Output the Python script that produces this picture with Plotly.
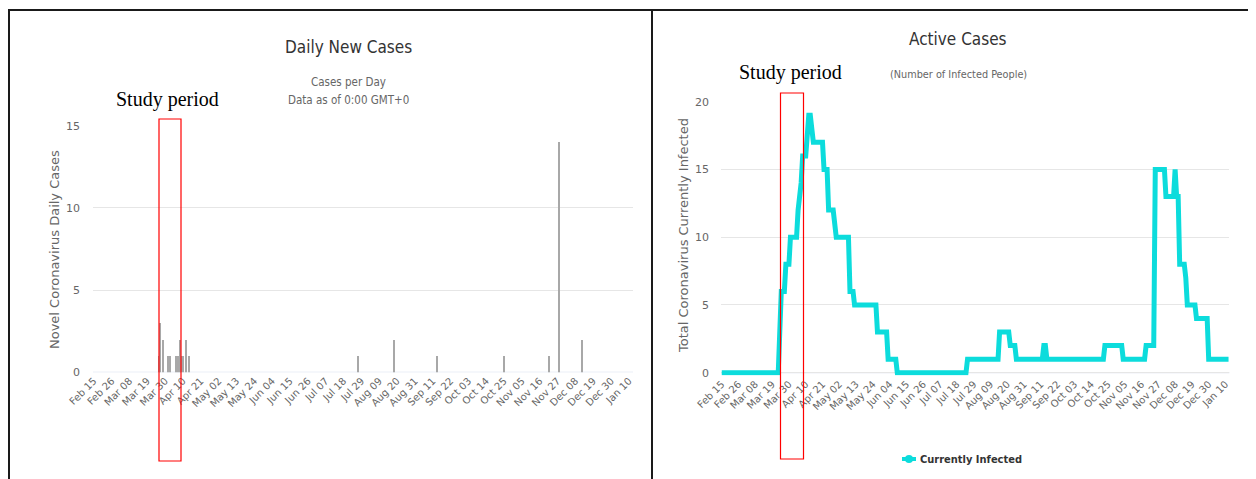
import plotly.graph_objects as go
import pandas as pd

# ---------------- data ----------------
new_case_dates = ["2020-03-26", "2020-03-27", "2020-03-29", "2020-04-01", "2020-04-02",
                  "2020-04-06", "2020-04-07", "2020-04-08", "2020-04-09", "2020-04-10",
                  "2020-04-12", "2020-04-14", "2020-07-27", "2020-08-18", "2020-09-14",
                  "2020-10-25", "2020-11-22", "2020-11-28", "2020-12-12"]
new_case_values = [1, 3, 2, 1, 1, 1, 1, 2, 1, 1, 2, 1, 1, 2, 1, 1, 1, 14, 2]

active_dates = ["2020-02-15", "2020-03-23", "2020-03-25", "2020-03-27", "2020-03-28",
                "2020-03-30", "2020-03-31", "2020-04-04", "2020-04-05", "2020-04-07",
                "2020-04-08", "2020-04-10", "2020-04-12", "2020-04-13", "2020-04-14",
                "2020-04-15", "2020-04-21", "2020-04-22", "2020-04-24", "2020-04-25",
                "2020-04-28", "2020-04-29", "2020-04-30", "2020-05-08", "2020-05-09",
                "2020-05-11", "2020-05-12", "2020-05-26", "2020-05-27", "2020-06-02",
                "2020-06-03", "2020-06-08", "2020-06-09", "2020-07-24", "2020-07-25",
                "2020-08-14", "2020-08-15", "2020-08-21", "2020-08-22", "2020-08-25",
                "2020-08-26", "2020-09-12", "2020-09-13", "2020-09-14", "2020-09-15",
                "2020-10-22", "2020-10-23", "2020-11-03", "2020-11-04", "2020-11-18",
                "2020-11-19", "2020-11-24", "2020-11-25", "2020-12-01", "2020-12-02",
                "2020-12-07", "2020-12-08", "2020-12-09", "2020-12-10", "2020-12-11",
                "2020-12-14", "2020-12-15", "2020-12-16", "2020-12-21", "2020-12-22",
                "2020-12-29", "2020-12-30", "2021-01-12"]
active_values = [0, 0, 6, 6, 8, 8, 10, 10, 12, 14, 16, 16, 19, 19, 18, 17, 17, 15, 15, 12,
                 12, 11, 10, 10, 6, 6, 5, 5, 3, 3, 1, 1, 0, 0, 1, 1, 3, 3, 2, 2,
                 1, 1, 2, 2, 1, 1, 2, 2, 1, 1, 2, 2, 15, 15, 13, 13, 15, 13, 13, 8,
                 8, 7, 5, 5, 4, 4, 1, 1]

tick_labels = ["Feb 15", "Feb 26", "Mar 08", "Mar 19", "Mar 30", "Apr 10", "Apr 21",
               "May 02", "May 13", "May 24", "Jun 04", "Jun 15", "Jun 26", "Jul 07",
               "Jul 18", "Jul 29", "Aug 09", "Aug 20", "Aug 31", "Sep 11", "Sep 22",
               "Oct 03", "Oct 14", "Oct 25", "Nov 05", "Nov 16", "Nov 27", "Dec 08",
               "Dec 19", "Dec 30", "Jan 10"]
tick_dates = ["2020-02-15", "2020-02-26", "2020-03-08", "2020-03-19", "2020-03-30",
              "2020-04-10", "2020-04-21", "2020-05-02", "2020-05-13", "2020-05-24",
              "2020-06-04", "2020-06-15", "2020-06-26", "2020-07-07", "2020-07-18",
              "2020-07-29", "2020-08-09", "2020-08-20", "2020-08-31", "2020-09-11",
              "2020-09-22", "2020-10-03", "2020-10-14", "2020-10-25", "2020-11-05",
              "2020-11-16", "2020-11-27", "2020-12-08", "2020-12-19", "2020-12-30",
              "2021-01-10"]
x_range = ["2020-02-14 12:00", "2021-01-12 12:00"]

# ---------------- styling ----------------
W, H = 1256, 479
OFF = 8  # page body margin in the browser
def px(x): return (x - OFF) / W
def py(y): return 1 - (y - OFF) / H

HC_FONT = "Liberation Sans Narrow, DejaVu Sans Condensed, Arial Narrow, sans-serif"
AX_FONT = "DejaVu Sans, Verdana, sans-serif"
CYAN = "#0cdcdc"
GRID = "#e6e6e6"

fig = go.Figure()

fig.add_trace(go.Bar(
    x=pd.to_datetime(new_case_dates), y=new_case_values,
    marker=dict(color="#a8a8a8", line=dict(width=0)),
    width=0.8 * 86400000, xaxis="x", yaxis="y", showlegend=False))

fig.add_trace(go.Scatter(
    x=pd.to_datetime(active_dates), y=active_values, mode="lines",
    line=dict(color=CYAN, width=5, shape="linear"),
    xaxis="x2", yaxis="y2", showlegend=False, name="Currently Infected"))

xcommon = dict(type="date", range=x_range, tickvals=tick_dates, ticktext=tick_labels,
               tickangle=-45, tickfont=dict(family=AX_FONT, size=10, color="#666666"),
               showgrid=False, zeroline=False, showline=False, ticks="", automargin=False)
ycommon = dict(showgrid=True, gridcolor=GRID, gridwidth=1, zeroline=False, showline=False,
               ticks="", tickfont=dict(family=AX_FONT, size=11, color="#666666"),
               automargin=False)

fig.update_layout(
    template="none",
    width=W, height=H, margin=dict(l=0, r=0, t=0, b=0, pad=0, autoexpand=False),
    paper_bgcolor="white", plot_bgcolor="white", bargap=0, showlegend=False,
    xaxis=dict(domain=[px(93), px(633)], anchor="y", **xcommon),
    yaxis=dict(domain=[py(372.3), py(125.7)], anchor="x", range=[0, 15],
               tickvals=[0, 5, 10, 15], ticklabelstandoff=12, **ycommon),
    xaxis2=dict(domain=[px(721), px(1229.3)], anchor="y2", **xcommon),
    yaxis2=dict(domain=[py(375.4), py(101.7)], anchor="x2", range=[-0.2, 20],
                tickvals=[0, 5, 10, 15, 20], ticklabelstandoff=11, **ycommon),
)

shapes = []
# axis baselines
shapes.append(dict(type="line", xref="x domain", yref="y", x0=0, x1=1, y0=0, y1=0,
                   line=dict(color="#ccd6eb", width=1), layer="below"))
shapes.append(dict(type="line", xref="x2 domain", yref="y2", x0=0, x1=1, y0=0, y1=0,
                   line=dict(color="#ccd6eb", width=1), layer="below"))
# panel borders
BORDER = dict(color="#1a1a1a", width=2)
for (x0, y0, x1, y1) in [(8, 10, 652, 10), (9, 10, 9, 479), (652, 10, 652, 479),
                         (652, 10, 1253, 10), (1253, 10, 1253, 479)]:
    shapes.append(dict(type="line", xref="paper", yref="paper", x0=px(x0), x1=px(x1),
                       y0=py(y0), y1=py(y1), line=BORDER))
# study period boxes
for (x0, y0, x1, y1) in [(159, 119, 181, 461), (780.5, 93, 803.5, 459)]:
    shapes.append(dict(type="rect", xref="paper", yref="paper", x0=px(x0), x1=px(x1),
                       y0=py(y0), y1=py(y1), line=dict(color="#ff0000", width=1.2),
                       fillcolor="rgba(0,0,0,0)"))
# legend symbol
shapes.append(dict(type="line", xref="paper", yref="paper", x0=px(902), x1=px(916),
                   y0=py(459), y1=py(459), line=dict(color=CYAN, width=4)))
shapes.append(dict(type="circle", xref="paper", yref="paper", x0=px(905), x1=px(913),
                   y0=py(463), y1=py(455), line=dict(color=CYAN, width=0), fillcolor=CYAN))
fig.update_layout(shapes=shapes)

ann = []
def txt(x, y, s, size, color, family=HC_FONT, angle=0, xanchor="center"):
    ann.append(dict(x=px(x), y=py(y), xref="paper", yref="paper", text=s, showarrow=False,
                    xanchor=xanchor, yanchor="middle", textangle=angle,
                    font=dict(family=family, size=size, color=color)))

txt(348, 47, "Daily New Cases", 17, "#333333")
txt(348, 82, "Cases per Day", 11.5, "#666666")
txt(348, 100, "Data as of 0:00 GMT+0", 11.5, "#666666")
txt(167, 99, "Study period", 20, "#000000", family="Liberation Serif, Times New Roman, serif")
txt(55, 250, "Novel Coronavirus Daily Cases", 13, "#666666", family=AX_FONT, angle=-90)

txt(958, 39, "Active Cases", 17, "#333333")
txt(958, 74, "(Number of Infected People)", 10.8, "#666666")
txt(791, 72, "Study period", 20, "#000000", family="Liberation Serif, Times New Roman, serif")
txt(684, 236, "Total Coronavirus Currently Infected", 13, "#666666", family=AX_FONT, angle=-90)
txt(918, 459, "<b>Currently Infected</b>", 11, "#333333", xanchor="left")

fig.update_layout(annotations=ann)
fig.write_html("out.html")
